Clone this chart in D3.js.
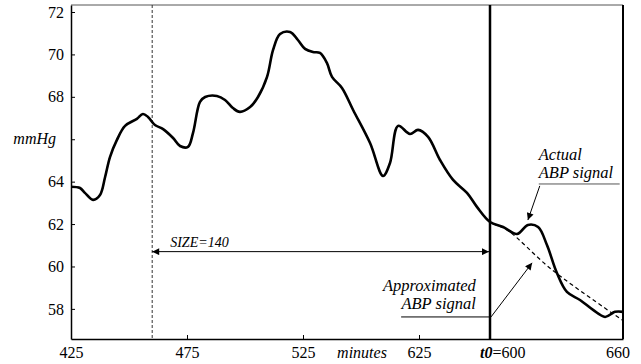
<!DOCTYPE html>
<html>
<head>
<meta charset="utf-8">
<script src="https://cdn.jsdelivr.net/npm/d3@7"></script>
<style>
  body { margin: 0; background: #fff; }
  svg text { font-family: "Liberation Serif", "DejaVu Serif", serif; fill: #000; }
  .axis path, .axis line { stroke: #000; }
  .axis text { font-size: 16px; }
  .note { font-size: 16.5px; font-style: italic; }
</style>
</head>
<body>
<div id="chart"></div>
<script>
// Actual ABP signal (minutes, mmHg).
const actualMinutes = [425, 428.9, 431, 434.5, 437.5, 439.7, 441.8, 444.8, 448.3, 453.4, 456, 458.2,
  461.2, 464.7, 469, 472, 475.4, 477.6, 480.6, 482.8, 487.9, 491.4, 494.8, 497.8, 502.2, 505.6,
  509.5, 512.1, 515.1, 519.4, 522.8, 525.9, 529.3, 532.3, 535.3, 537.5, 541.8, 546.6, 553.9,
  559.5, 562.5, 566, 571.1, 574.6, 578.2, 582.4, 587, 591.9, 595.4, 600, 605.9, 612.2, 617.1,
  621.7, 625.7, 630.2, 634.7, 640.6, 646.5, 651.9, 656.4, 660]
const actualValues = [63.76, 63.7, 63.47, 63.14, 63.37, 64.22, 65.16, 65.97, 66.63, 66.96, 67.19, 67.05,
  66.67, 66.48, 66.06, 65.68, 65.64, 66.3, 67.76, 67.99, 68.04, 67.85, 67.47, 67.29, 67.52, 67.99,
  68.94, 70.21, 70.96, 71.06, 70.68, 70.26, 70.11, 70.07, 69.6, 68.94, 68.42, 67.38, 65.82,
  64.27, 64.88, 66.63, 66.25, 66.44, 66.11, 65.02, 64.08, 63.47, 62.81, 62.1, 61.86, 61.53, 61.96,
  61.86, 61.01, 59.69, 58.8, 58.42, 57.95, 57.62, 57.86, 57.86]

// Approximated signal after t0 (before t0 it is the same as the actual one).
const approxMinutes = [600, 607.7, 628, 660]
const approxValues = [62.1, 61.72, 59.84, 57.45]

const t0 = 600
const windowSize = 140
const xTicks = [425, 475, 525, 575]
const xTickLabels = ['425', '475', '525', '625']
const yTicks = [58, 60, 62, 64, 66, 68, 70, 72]

const width = 641
const height = 364

const svg = d3.select('#chart')
  .append('svg')
  .attr('width', width)
  .attr('height', height)

/**
 * Scales. The printed x axis is not evenly spaced, so it is piecewise.
 */
const x = d3.scaleLinear()
  .domain([425, 575, 600, 660])
  .range([71, 419, 490, 623])
const y = d3.scaleLinear()
  .domain([56.58, 72.33])
  .range([339, 5])

const x0 = x.range()[0], x1 = x.range()[3]
const yTop = y.range()[1], yBottom = y.range()[0]

/**
 * Arrow heads.
 */
const defs = svg.append('defs')
defs.append('marker')
  .attr('id', 'head')
  .attr('viewBox', '0 0 10 10')
  .attr('refX', 10)
  .attr('refY', 5)
  .attr('markerWidth', 9)
  .attr('markerHeight', 7)
  .attr('markerUnits', 'userSpaceOnUse')
  .attr('orient', 'auto-start-reverse')
  .append('path')
  .attr('d', 'M 0 0 L 10 5 L 0 10 z')
  .attr('fill', '#000')

/**
 * Frame: top and right.
 */
svg.append('line')
  .attr('x1', x0).attr('x2', x1)
  .attr('y1', yTop).attr('y2', yTop)
  .attr('stroke', '#555').attr('stroke-width', 1)
svg.append('line')
  .attr('x1', x1).attr('x2', x1)
  .attr('y1', yTop).attr('y2', yBottom)
  .attr('stroke', '#000').attr('stroke-width', 2)

/**
 * Axes.
 */
svg.append('g')
  .attr('class', 'axis')
  .attr('transform', `translate(0,${yBottom})`)
  .call(d3.axisBottom(x)
    .tickValues(xTicks)
    .tickFormat((d, i) => xTickLabels[i])
    .tickSizeInner(-4)
    .tickSizeOuter(0)
    .tickPadding(8))
  .call(g => g.select('.domain').attr('stroke-width', 1.5))

svg.append('g')
  .attr('class', 'axis')
  .attr('transform', `translate(${x0},0)`)
  .call(d3.axisLeft(y)
    .tickValues(yTicks)
    .tickFormat(d => d === 66 ? '' : d)
    .tickSizeInner(-4)
    .tickSizeOuter(0)
    .tickPadding(7))
  .call(g => g.select('.domain').attr('stroke-width', 1.5))

// axis titles and extra labels
svg.append('text')
  .attr('x', 56).attr('y', y(66))
  .attr('dy', '0.32em')
  .attr('text-anchor', 'end')
  .attr('font-size', 16)
  .attr('font-style', 'italic')
  .text('mmHg')

svg.append('text')
  .attr('x', (x(525) + x(575)) / 2 + 1).attr('y', yBottom + 19)
  .attr('text-anchor', 'middle')
  .attr('font-size', 16)
  .attr('font-style', 'italic')
  .text('minutes')

const t0Label = svg.append('text')
  .attr('x', x(t0) - 10).attr('y', yBottom + 19)
  .attr('font-size', 16)
t0Label.append('tspan').attr('font-weight', 'bold').attr('font-style', 'italic').text('t0')
t0Label.append('tspan').text('=' + t0)

svg.append('text')
  .attr('x', x(660) - 5).attr('y', yBottom + 19)
  .attr('text-anchor', 'middle')
  .attr('font-size', 16)
  .text('660')

/**
 * Window start (dashed) and t0 (bold) verticals.
 */
svg.append('line')
  .attr('x1', x(t0 - windowSize)).attr('x2', x(t0 - windowSize))
  .attr('y1', yTop).attr('y2', yBottom)
  .attr('stroke', '#333').attr('stroke-width', 1)
  .attr('stroke-dasharray', '3,2')
svg.append('line')
  .attr('x1', x(t0)).attr('x2', x(t0))
  .attr('y1', yTop).attr('y2', yBottom)
  .attr('stroke', '#000').attr('stroke-width', 2.5)

/**
 * Signals.
 */
const actual = actualMinutes.map((m, i) => [m, actualValues[i]])
const approx = actual.filter(d => d[0] < t0)
  .concat(approxMinutes.map((m, i) => [m, approxValues[i]]))

const line = d3.line()
  .x(d => x(d[0]))
  .y(d => y(d[1]))
  .curve(d3.curveCatmullRom.alpha(0.5))

svg.append('path')
  .datum(approx)
  .attr('d', line)
  .attr('fill', 'none')
  .attr('stroke', '#000')
  .attr('stroke-width', 1.2)
  .attr('stroke-dasharray', '4,3')

svg.append('path')
  .datum(actual)
  .attr('d', line)
  .attr('fill', 'none')
  .attr('stroke', '#000')
  .attr('stroke-width', 2.6)
  .attr('stroke-linejoin', 'round')

/**
 * SIZE arrow.
 */
const sizeLevel = 60.7
svg.append('line')
  .attr('x1', x(t0 - windowSize)).attr('x2', x(t0) - 1)
  .attr('y1', y(sizeLevel)).attr('y2', y(sizeLevel))
  .attr('stroke', '#000').attr('stroke-width', 1)
  .attr('marker-start', 'url(#head)')
  .attr('marker-end', 'url(#head)')
svg.append('text')
  .attr('x', x(t0 - windowSize) + 18).attr('y', y(sizeLevel) - 5)
  .attr('font-size', 14)
  .attr('font-style', 'italic')
  .text('SIZE=' + windowSize)

/**
 * Annotations.
 */
function note(xPos, yPos, lines, anchor) {
  lines.forEach((s, i) => {
    svg.append('text').attr('class', 'note')
      .attr('text-anchor', anchor)
      .attr('x', xPos)
      .attr('y', yPos + i * 17.5)
      .text(s)
  })
}

// Actual ABP signal
const actX = 622
note(x(actX), y(65.0), ['Actual', 'ABP signal'], 'start')
svg.append('line')
  .attr('x1', x(actX)).attr('x2', x(658.5))
  .attr('y1', y(63.89)).attr('y2', y(63.89))
  .attr('stroke', '#555').attr('stroke-width', 1)
svg.append('line')
  .attr('x1', x(actX) + 1).attr('y1', y(63.8))
  .attr('x2', x(617.1)).attr('y2', y(62.19))
  .attr('stroke', '#000').attr('stroke-width', 1)
  .attr('marker-end', 'url(#head)')

// Approximated ABP signal
note(x(595), y(58.8) - 0.5, ['Approximated', 'ABP signal'], 'end')
svg.append('line')
  .attr('x1', x(567.3)).attr('x2', x(t0))
  .attr('y1', y(57.62)).attr('y2', y(57.62))
  .attr('stroke', '#000').attr('stroke-width', 1)
svg.append('line')
  .attr('x1', x(t0) + 1).attr('y1', y(57.62))
  .attr('x2', x(619)).attr('y2', y(60.17))
  .attr('stroke', '#000').attr('stroke-width', 1)
  .attr('marker-end', 'url(#head)')
</script>
</body>
</html>
